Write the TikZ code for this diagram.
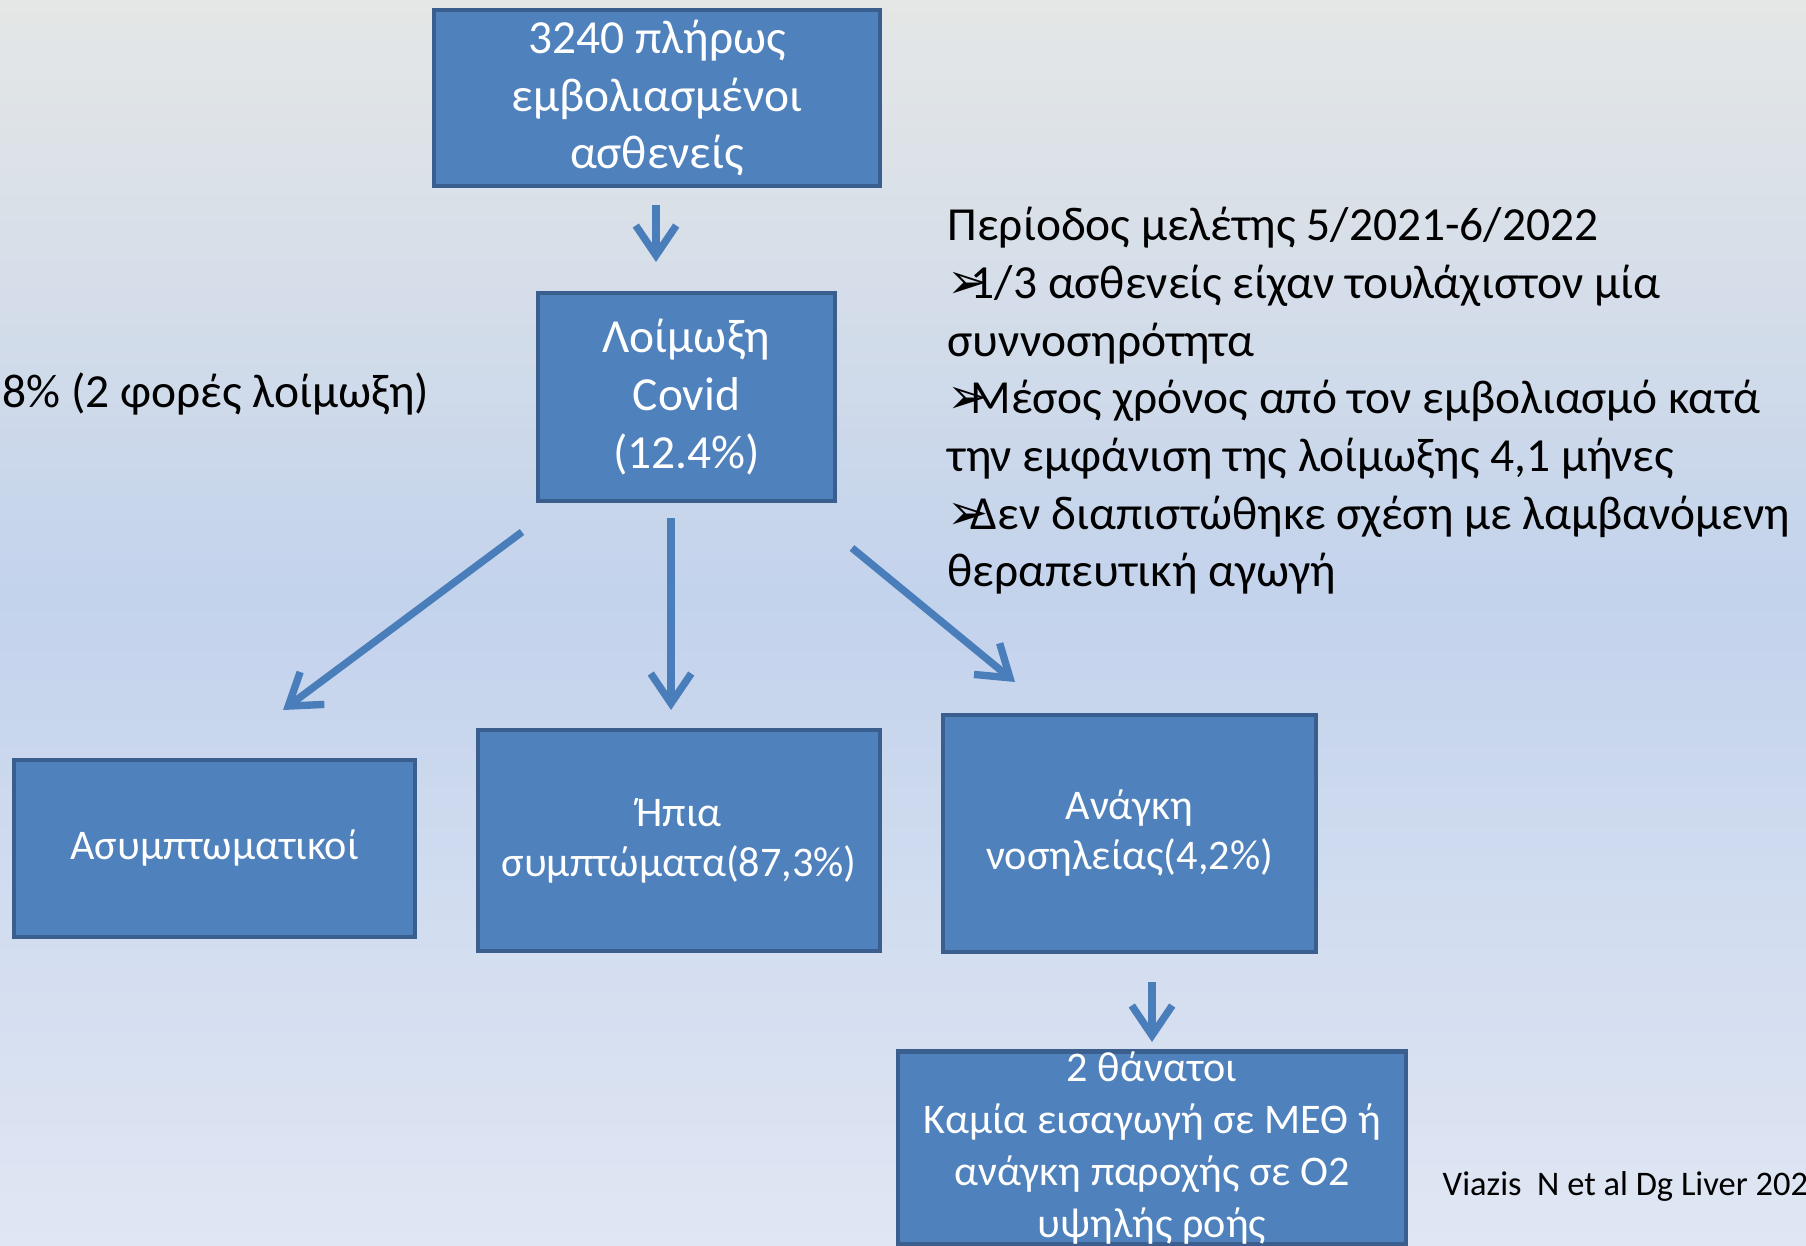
\documentclass[tikz,border=0pt]{standalone}
\usepackage{fontspec}
\setmainfont{Carlito}
\newfontfamily\symfont{DejaVu Sans}
\usetikzlibrary{arrows.meta}

\definecolor{boxfill}{HTML}{4F81BD}
\definecolor{boxline}{HTML}{3A5F8E}
\definecolor{arrowblue}{HTML}{4A7EBB}
\definecolor{bgtop}{HTML}{E5E7E6}
\definecolor{bgmid}{HTML}{C3D3EC}
\definecolor{bgbot}{HTML}{E0E6F3}

\newcommand\bigtext{\fontsize{13.5}{16.4}\selectfont}
\newcommand\smalltext{\fontsize{12}{14.2}\selectfont}
\newcommand\deathtext{\fontsize{12}{14.8}\selectfont}
\newcommand\arrowbullet{\makebox[6.6pt][l]{\symfont\fontsize{14}{14}\selectfont ➢}}

\tikzset{
  flowbox/.style={draw=boxline, line width=1.3pt, fill=boxfill, text=white,
    align=center, inner sep=0pt},
  flowarrow/.style={draw=arrowblue, line width=2.1pt,
    -{Straight Barb[length=8.5pt,width=11.5pt]}},
  plaintext/.style={inner sep=0pt, text=black},
}

\begin{document}
\begin{tikzpicture}[x=0.01cm, y=-0.01cm]
  \useasboundingbox (0,0) rectangle (1806,1246);
  \clip (0,0) rectangle (1806,1246);
  % vertical background gradient: grey at the top, blue in the middle, pale blue below
  \foreach \i in {0,...,45} {
    \pgfmathsetmacro\p{100*(\i+0.5)/46}
    \fill[bgmid!\p!bgtop] (0,{\i*13}) rectangle (1806,{\i*13+14});
  }
  \foreach \i in {0,...,47} {
    \pgfmathsetmacro\p{100*(\i+0.5)/48}
    \fill[bgbot!\p!bgmid] (0,{598+\i*13.5}) rectangle (1806,{598+\i*13.5+14.5});
  }

  % flow boxes
  \node[flowbox, minimum width=4.46cm, minimum height=1.76cm, font=\bigtext]
    (top) at (657,98) {3240 πλήρως\\εμβολιασμένοι\\ασθενείς};
  \node[flowbox, minimum width=2.97cm, minimum height=2.08cm, font=\bigtext]
    (covid) at (686.5,397) {Λοίμωξη\\Covid\\(12.4\%)};
  \node[flowbox, minimum width=4.01cm, minimum height=1.77cm, font=\smalltext]
    (asym) at (214.5,848.5) {Ασυμπτωματικοί};
  \node[flowbox, minimum width=4.02cm, minimum height=2.21cm, font=\smalltext]
    (mild) at (679,840.5) {Ήπια\\συμπτώματα(87,3\%)};
  \node[flowbox, minimum width=3.73cm, minimum height=2.37cm, font=\smalltext]
    (hosp) at (1129.5,833.5) {Ανάγκη\\νοσηλείας(4,2\%)};
  \node[flowbox, minimum width=5.08cm, minimum height=1.78cm, font=\deathtext]
    (death) at (1152,1148) {2 θάνατοι\\Καμία εισαγωγή σε ΜΕΘ ή\\ανάγκη παροχής σε Ο2\\υψηλής ροής};

  % connector end points
  \coordinate (a1s) at (656,205);  \coordinate (a1e) at (656,262);
  \coordinate (a2s) at (522,532);  \coordinate (a2e) at (283,710);
  \coordinate (a3s) at (671,518);  \coordinate (a3e) at (671,710);
  \coordinate (a4s) at (852,548);  \coordinate (a4e) at (1015,682);
  \coordinate (a5s) at (1152,982); \coordinate (a5e) at (1152,1042);

  \draw[flowarrow] (a1s) -- (a1e);
  \draw[flowarrow] (a2s) -- (a2e);
  \draw[flowarrow] (a3s) -- (a3e);
  \draw[flowarrow] (a4s) -- (a4e);
  \draw[flowarrow] (a5s) -- (a5e);

  % side notes
  \node[plaintext, anchor=west, font=\bigtext] (reinf) at (2,394)
    {8\% (2 φορές λοίμωξη)};
  \node[plaintext, anchor=west, align=left, font=\bigtext] (notes) at (947,401)
    {Περίοδος μελέτης 5/2021-6/2022\\
     \arrowbullet 1/3 ασθενείς είχαν τουλάχιστον μία\\
     συννοσηρότητα\\
     \arrowbullet Μέσος χρόνος από τον εμβολιασμό κατά\\
     την εμφάνιση της λοίμωξης 4,1 μήνες\\
     \arrowbullet Δεν διαπιστώθηκε σχέση με λαμβανόμενη\\
     θεραπευτική αγωγή};
  \node[plaintext, anchor=west, font=\fontsize{9.8}{11}\selectfont] (cite) at (1442,1186)
    {Viazis\ \ N et al Dg Liver 202};
\end{tikzpicture}
\end{document}
